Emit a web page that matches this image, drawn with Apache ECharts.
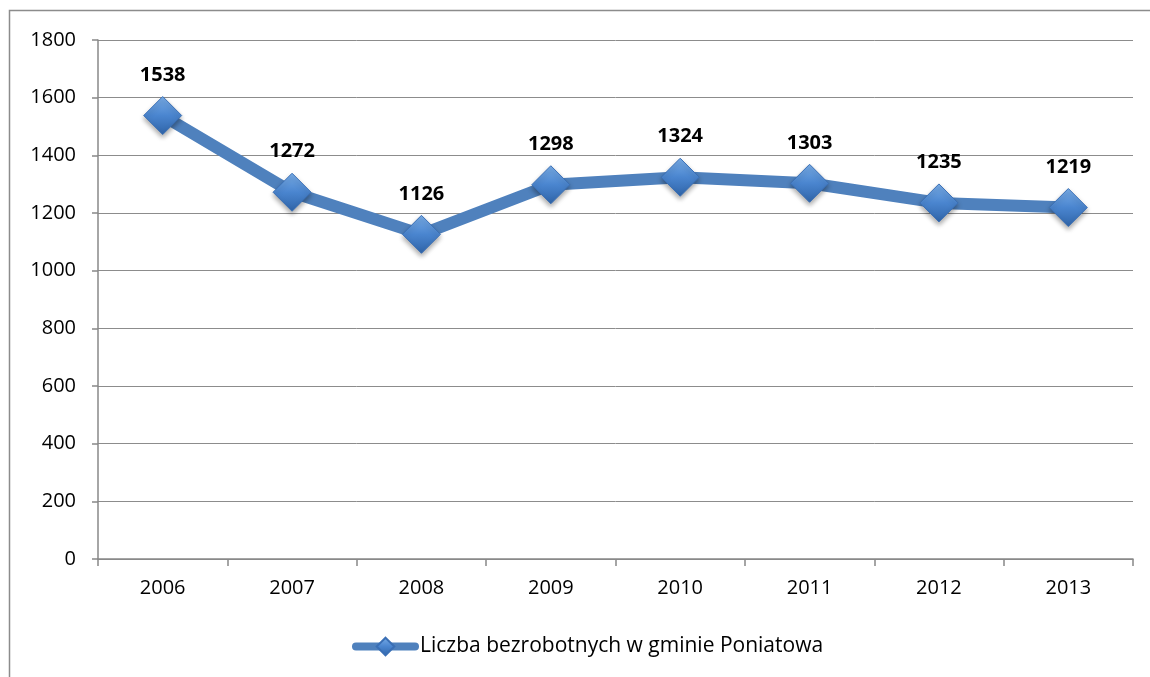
<!DOCTYPE html>
<html><head><meta charset="utf-8">
<script src="https://cdn.jsdelivr.net/npm/echarts@6/dist/echarts.min.js"></script>
<style>html,body{margin:0;padding:0;background:#fff}#c{width:1150px;height:677px}</style>
</head><body><div id="c"></div>
<script>
const categories = ['2006','2007','2008','2009','2010','2011','2012','2013'];
const values = [1538,1272,1126,1298,1324,1303,1235,1219];
const seriesName = 'Liczba bezrobotnych w gminie Poniatowa';
const FONT = '"Open Sans", Lato, sans-serif';
const chart = echarts.init(document.getElementById('c'));
const markerColor = {type:'linear',x:0,y:0,x2:0,y2:1,colorStops:[{offset:0,color:'#7aaee8'},{offset:0.5,color:'#4a85cf'},{offset:1,color:'#2f64a8'}]};
chart.setOption({
  animation:false,
  textStyle:{fontFamily:FONT},
  graphic:[{type:'rect',shape:{x:9.5,y:10.5,width:1150,height:700},style:{fill:'none',stroke:'#8c8c8c',lineWidth:1.5},silent:true}],
  grid:{left:98,right:17,top:40,bottom:118},
  legend:{top:631,left:347,itemWidth:59,itemHeight:22,itemGap:10,
    lineStyle:{width:8,cap:'round'},
    textStyle:{fontSize:21,color:'#000',fontFamily:FONT},
    data:[{name:seriesName}]},
  xAxis:{type:'category',data:categories,boundaryGap:true,
    axisLine:{lineStyle:{color:'#888',width:1.5}},
    axisTick:{show:true,length:7,lineStyle:{color:'#888',width:1.5}},
    axisLabel:{fontSize:20,color:'#000',margin:19,fontFamily:FONT}},
  yAxis:{type:'value',min:0,max:1800,interval:200,
    axisLine:{show:true,lineStyle:{color:'#888',width:1.5}},
    axisTick:{show:true,length:6,lineStyle:{color:'#888',width:1.5}},
    splitLine:{lineStyle:{color:'#8c8c8c',width:1}},
    axisLabel:{fontSize:20,color:'#000',margin:22,fontFamily:FONT,formatter:v=>String(v)}},
  series:[{name:seriesName,type:'line',data:values,
    lineStyle:{color:'#4f81bd',width:12,cap:'round'},
    itemStyle:{color:markerColor,borderColor:'#3a6fb5',borderWidth:1,shadowColor:'rgba(0,0,0,0.35)',shadowBlur:5,shadowOffsetY:3},
    symbol:'diamond',symbolSize:38,
    label:{show:true,position:'top',distance:11,fontSize:20,fontWeight:'bold',color:'#000',fontFamily:FONT},
    emphasis:{disabled:true}
  }]
});
</script></body></html>
